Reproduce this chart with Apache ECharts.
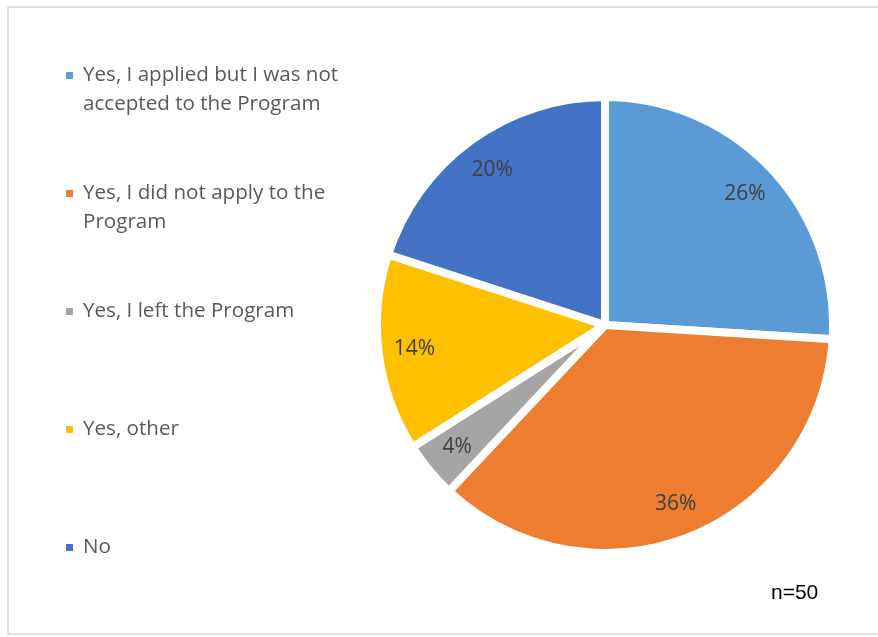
<!DOCTYPE html>
<html>
<head>
<meta charset="utf-8">
<title>pie</title>
<script src="https://cdn.jsdelivr.net/npm/echarts@6/dist/echarts.min.js"></script>
<style>
  html, body { margin: 0; padding: 0; background: #fff; }
  #main { width: 878px; height: 637px; }
</style>
</head>
<body>
<div id="main"></div>
<script>
// data
var names = [
  'Yes, I applied but I was not\naccepted to the Program',
  'Yes, I did not apply to the\nProgram',
  'Yes, I left the Program',
  'Yes, other',
  'No'
];
var shares = [26, 36, 4, 14, 20];
var colors = ['#5B9BD5', '#ED7D31', '#A5A5A5', '#FFC000', '#4472C4'];
var note = 'n=50';

var chart = echarts.init(document.getElementById('main'));

var pieData = names.map(function (n, i) {
  return { name: n, value: shares[i], itemStyle: { color: colors[i] } };
});

// rich styles for the legend markers, one per item
var rich = { g: { width: 10 }, sp: { width: 17 }, t: { fontFamily: 'Open Sans', fontSize: 20.6, color: '#595959', lineHeight: 29 } };
colors.forEach(function (c, i) {
  rich['m' + i] = { width: 7, height: 7, backgroundColor: c };
});

var option = {
  backgroundColor: '#fff',
  animation: false,
  title: {
    text: note,
    left: 766,
    top: 578,
    textStyle: { fontFamily: 'Liberation Sans', fontSize: 21, fontWeight: 'normal', color: '#000' }
  },
  legend: {
    orient: 'vertical',
    left: 55,
    top: 56,
    icon: 'none',
    itemWidth: 1,
    itemHeight: 10,
    itemGap: 60,
    data: names,
    formatter: function (name) {
      var i = names.indexOf(name);
      var lines = name.split('\n');
      if (lines.length < 2) lines.push(' ');
      return '{m' + i + '|}{g|}{t|' + lines[0] + '}\n{sp|}{t|' + lines[1] + '}';
    },
    textStyle: { rich: rich, lineHeight: 29 }
  },
  graphic: [{
    type: 'rect',
    shape: { x: 8, y: 7, width: 900, height: 627 },
    style: { fill: 'none', stroke: '#d4d4d4', lineWidth: 1.5 },
    silent: true
  }],
  series: [
    {
      type: 'pie',
      center: [605, 325],
      radius: [0, 228],
      startAngle: 90,
      clockwise: true,
      data: pieData,
      itemStyle: { borderColor: '#fff', borderWidth: 8 },
      label: { show: false },
      labelLine: { show: false },
      emphasis: { disabled: true }
    },
    {
      // transparent ring only used to place the percentage labels
      type: 'pie',
      center: [605, 325],
      radius: [150, 228],
      startAngle: 90,
      clockwise: true,
      silent: true,
      data: names.map(function (n, i) { return { name: n, value: shares[i] }; }),
      itemStyle: { color: 'rgba(0,0,0,0)' },
      label: {
        show: true,
        position: 'inside',
        formatter: '{c}%',
        fontFamily: 'Open Sans',
        fontSize: 21,
        color: '#404040'
      },
      labelLine: { show: false },
      emphasis: { disabled: true }
    }
  ]
};

chart.setOption(option);
</script>
</body>
</html>
